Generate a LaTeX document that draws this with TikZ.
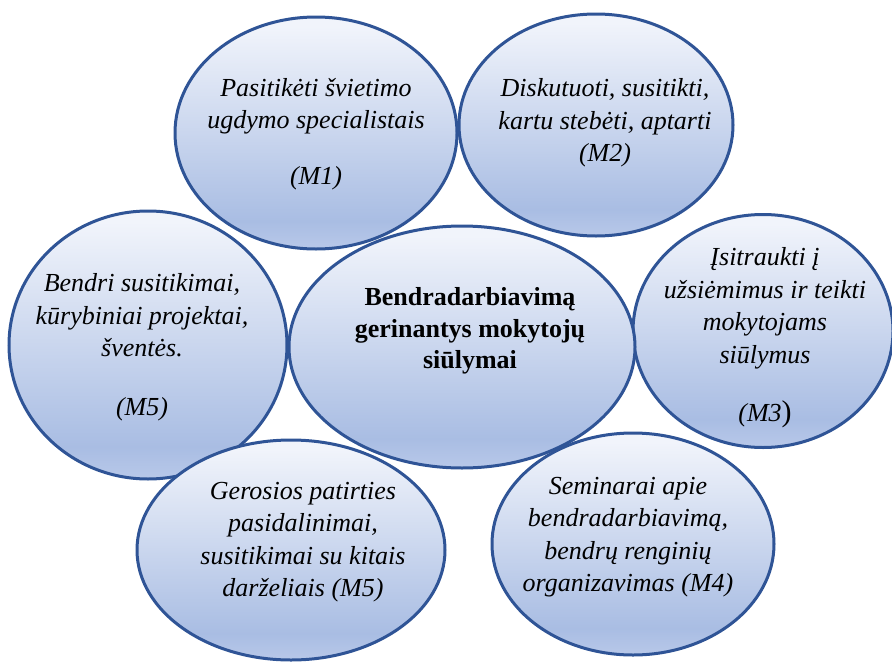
\documentclass[tikz,border=0pt]{standalone}
\usepackage{fontspec}
\setmainfont{Liberation Serif}
\usetikzlibrary{shapes.geometric}
\definecolor{btop}{HTML}{F1F4FB}
\definecolor{bdark}{HTML}{A9BDE3}
\definecolor{bbot}{HTML}{B8C8E9}
\definecolor{bline}{HTML}{2F5496}
\pgfdeclareverticalshading{bubble}{100bp}{color(0bp)=(bbot); color(25bp)=(bbot); color(31bp)=(bdark); color(73bp)=(btop); color(100bp)=(btop)}
\begin{document}
\begin{tikzpicture}[x=1pt,y=-1pt,
  bubble/.style={ellipse, draw=bline, line width=3pt, shading=bubble, inner sep=0pt},
  btext/.style={align=center, font=\fontsize{26}{32.5}\selectfont\itshape, inner sep=0pt},
  ctext/.style={align=center, font=\fontsize{26}{31.5}\selectfont\bfseries, inner sep=0pt}]
\useasboundingbox (0,0) rectangle (892,664);
% ellipses
\node[bubble, minimum width=282pt, minimum height=232pt] (m1) at (316,133) {};
\node[bubble, minimum width=274pt, minimum height=222pt] (m2) at (596,125) {};
\node[bubble, minimum width=278pt, minimum height=268pt] (m5a) at (148,345) {};
\node[bubble, minimum width=260pt, minimum height=233pt] (m3) at (763,331) {};
\node[bubble, minimum width=346pt, minimum height=242pt] (c) at (462,347) {};
\node[bubble, minimum width=308pt, minimum height=220pt] (m5b) at (291,550) {};
\node[bubble, minimum width=282pt, minimum height=222pt] (m4) at (633,544) {};
% texts
\node[btext] (t1) at (316,134) {Pasitikėti švietimo\\ugdymo specialistais\\[23pt](M1)};
\node[btext] (t2) at (605,123) {Diskutuoti, susitikti,\\kartu stebėti, aptarti\\(M2)};
\node[btext] (t5a) at (142,347) {Bendri susitikimai,\\kūrybiniai projektai,\\šventės.\\[26pt](M5)};
\node[ctext] (tc) at (470,331) {Bendradarbiavimą\\gerinantys mokytojų\\siūlymai};
\node[btext] (t3) at (765,338) {Įsitraukti į\\užsiėmimus ir teikti\\mokytojams\\siūlymus\\[26pt](M3{\upshape\fontsize{30}{30}\selectfont)}};
\node[btext] (t5b) at (303,542) {Gerosios patirties\\pasidalinimai,\\susitikimai su kitais\\darželiais (M5)};
\node[btext] (t4) at (628,537) {Seminarai apie\\bendradarbiavimą,\\bendrų renginių\\organizavimas (M4)};
\end{tikzpicture}
\end{document}
